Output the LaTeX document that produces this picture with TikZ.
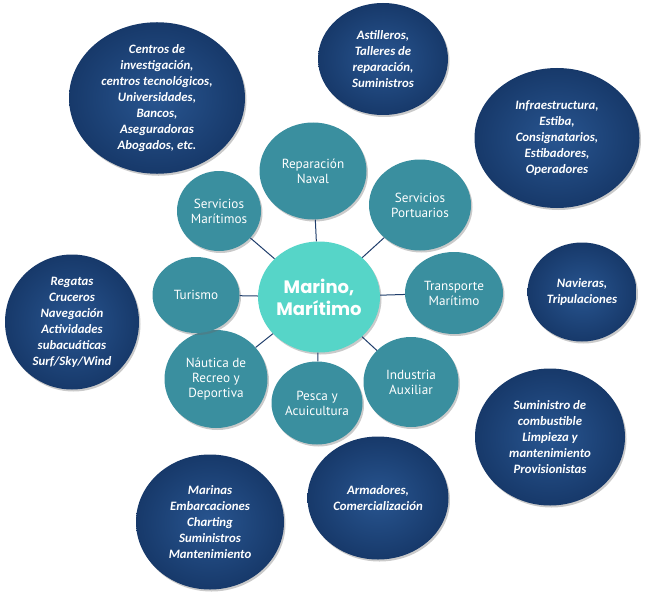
\documentclass[tikz,border=0pt]{standalone}
\usepackage{fontspec}
\setmainfont{Carlito}
\newfontfamily\tealfont{PT Sans}
\newfontfamily\centerfont{Poppins}
\usetikzlibrary{shapes.geometric,shadows}
\definecolor{navyD}{HTML}{17396A}
\definecolor{navyL}{HTML}{285590}
\definecolor{tealC}{HTML}{3A8F9F}
\definecolor{centerC}{HTML}{56D5C8}
\definecolor{lineC}{HTML}{1F3D6B}
\tikzset{
  shd/.style={drop shadow={shadow xshift=1.5pt, shadow yshift=-2pt, opacity=0.35, fill=black!60}},
  navybub/.style={ellipse, inner sep=0pt, shd, inner color=navyL, outer color=navyD,
    text=white, align=center, font=\bfseries\itshape\fontsize{12.8}{16}\selectfont},
  tealbub/.style={ellipse, inner sep=0pt, shd, fill=tealC, text=white, align=center,
    font=\tealfont\fontsize{13.2}{15}\selectfont},
  centerbub/.style={ellipse, inner sep=0pt, shd, fill=centerC, text=white, align=center,
    font=\centerfont\bfseries\fontsize{18}{22}\selectfont},
  conn/.style={draw=lineC, line width=1pt}
}
\begin{document}
\begin{tikzpicture}[x=1pt,y=-1pt]
\useasboundingbox (0,0) rectangle (650,599);
% outer navy bubbles
\node[navybub, minimum width=176pt, minimum height=140pt] (cen) at (157,98)
  {Centros de\\investigación,\\centros tecnológicos,\\Universidades,\\Bancos,\\Aseguradoras\\Abogados, etc.};
\node[navybub, minimum width=130pt, minimum height=112pt] (ast) at (383,59)
  {Astilleros,\\Talleres de\\reparación,\\Suministros};
\node[navybub, minimum width=165pt, minimum height=140pt] (inf) at (557,138)
  {Infraestructura,\\Estiba,\\Consignatarios,\\Estibadores,\\Operadores};
\node[navybub, minimum width=109pt, minimum height=99pt] (nav) at (582,292)
  {Navieras,\\Tripulaciones};
\node[navybub, minimum width=150pt, minimum height=137pt] (sum) at (550,437)
  {Suministro de\\combustible\\Limpieza y\\mantenimiento\\Provisionistas};
\node[navybub, minimum width=141pt, minimum height=123pt] (arm) at (378,498)
  {Armadores,\\Comercialización};
\node[navybub, minimum width=148pt, minimum height=135pt] (mar) at (210,522)
  {Marinas\\Embarcaciones\\Charting\\Suministros\\Mantenimiento};
\node[navybub, minimum width=134pt, minimum height=135pt] (reg) at (72,322)
  {Regatas\\Cruceros\\Navegación\\Actividades\\subacuáticas\\Surf/Sky/Wind};
% centre
\node[centerbub, minimum width=122pt, minimum height=111pt] (c) at (319,297)
  {Marino,\\Marítimo};
% teal satellites
\node[tealbub, minimum width=107pt, minimum height=97pt] (rep) at (313,171) {Reparación\\Naval};
\node[tealbub, minimum width=102pt, minimum height=91pt] (sp) at (420,205) {Servicios\\Portuarios};
\node[tealbub, minimum width=98pt, minimum height=82pt] (tm) at (454,293) {Transporte\\Marítimo};
\node[tealbub, minimum width=95pt, minimum height=90pt] (ia) at (411,382) {Industria\\Auxiliar};
\node[tealbub, minimum width=91pt, minimum height=83pt] (pa) at (317,403) {Pesca y\\Acuicultura};
\node[tealbub, minimum width=103pt, minimum height=98pt] (nr) at (216,379) {Náutica de\\Recreo y\\Deportiva};
\node[tealbub, minimum width=87pt, minimum height=76pt] (tu) at (196,295) {Turismo};
\node[tealbub, minimum width=84pt, minimum height=80pt] (sm) at (219,211) {Servicios\\Marítimos};
% connectors
\foreach \s in {rep,sp,tm,ia,pa,nr,tu,sm} { \draw[conn] (c) -- (\s); }
\end{tikzpicture}
\end{document}
